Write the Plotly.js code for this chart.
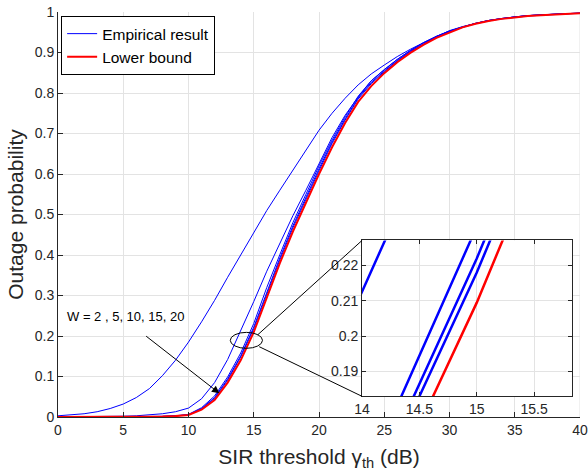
<!DOCTYPE html>
<html>
<head>
<meta charset="utf-8">
<script src="https://cdn.plot.ly/plotly-3.0.1.min.js"></script>
<style>html,body{margin:0;padding:0;background:#fff;}#chart{width:588px;height:474px;}</style>
</head>
<body>
<div id="chart"></div>
<script>
// SIR threshold (dB)
const sir = [0,1,2,3,4,5,6,7,8,9,10,11,12,13,14,15,16,17,18,19,20,21,22,23,24,25,26,27,28,29,30,31,32,33,34,35,36,37,38,39,40];
// Empirical outage probability, W = 2
const empW2 = [0.003,0.005,0.008,0.013,0.021,0.032,0.048,0.070,0.102,0.140,0.185,0.235,0.288,0.345,0.400,0.455,0.510,0.560,0.610,0.660,0.708,0.750,0.787,0.820,0.847,0.869,0.890,0.908,0.925,0.940,0.953,0.963,0.972,0.979,0.984,0.988,0.991,0.993,0.995,0.996,0.997];
// W = 5
const empW5 = [0.0002,0.0003,0.0005,0.0008,0.0012,0.002,0.003,0.005,0.008,0.013,0.022,0.045,0.085,0.142,0.2126,0.285,0.360,0.430,0.497,0.560,0.625,0.690,0.745,0.790,0.830,0.858,0.883,0.905,0.924,0.940,0.954,0.964,0.972,0.979,0.984,0.988,0.991,0.993,0.995,0.996,0.997];
// W = 10
const empW10 = [0.0000,0.0000,0.0001,0.0001,0.0002,0.0003,0.0005,0.0009,0.0016,0.003,0.0065,0.023,0.052,0.099,0.158,0.231,0.320,0.401,0.480,0.550,0.620,0.684,0.741,0.792,0.830,0.857,0.883,0.905,0.924,0.940,0.953,0.963,0.972,0.979,0.984,0.988,0.991,0.993,0.995,0.996,0.997];
// W = 15
const empW15 = [0.0000,0.0000,0.0001,0.0001,0.0002,0.0003,0.0004,0.0008,0.0014,0.0027,0.0055,0.021,0.048,0.094,0.151,0.222,0.310,0.393,0.472,0.543,0.613,0.679,0.736,0.788,0.826,0.854,0.880,0.903,0.922,0.939,0.952,0.963,0.972,0.979,0.984,0.988,0.991,0.993,0.995,0.996,0.997];
// W = 20
const empW20 = [0.0000,0.0000,0.0001,0.0001,0.0002,0.0003,0.0004,0.0007,0.0013,0.0025,0.0052,0.020,0.046,0.091,0.148,0.218,0.305,0.388,0.467,0.538,0.608,0.675,0.733,0.785,0.823,0.852,0.879,0.902,0.921,0.938,0.951,0.962,0.971,0.978,0.983,0.987,0.990,0.992,0.994,0.9955,0.997];
// Lower bound
const lowerBound = [0.0000,0.0000,0.0001,0.0001,0.0002,0.0003,0.0004,0.0006,0.0011,0.0022,0.005,0.018,0.042,0.085,0.140,0.2095,0.297,0.380,0.458,0.530,0.600,0.666,0.726,0.778,0.817,0.849,0.876,0.899,0.919,0.936,0.950,0.962,0.971,0.978,0.983,0.987,0.990,0.992,0.994,0.9955,0.997];

const empSeries = [empW2, empW5, empW10, empW15, empW20];
const xTicks = [0,5,10,15,20,25,30,35,40];
const yTicks = [0,0.1,0.2,0.3,0.4,0.5,0.6,0.7,0.8,0.9,1];
const insetXTicks = [14,14.5,15,15.5];
const insetYTicks = [0.19,0.2,0.21,0.22];

const BLUE = '#0000ff', RED = '#ff0000', DARK = '#262626', GRID = '#e3e3e3';
const FONT = 'Liberation Sans, Arial, Helvetica, sans-serif';

const traces = [];
empSeries.forEach((ys, i) => {
  traces.push({x: sir, y: ys, type: 'scatter', mode: 'lines', name: 'Empirical result',
    showlegend: i === 0, legendrank: 1, line: {color: BLUE, width: 1}, xaxis: 'x', yaxis: 'y', hoverinfo: 'skip'});
});
traces.push({x: sir, y: lowerBound, type: 'scatter', mode: 'lines', name: 'Lower bound',
  showlegend: true, legendrank: 2, line: {color: RED, width: 2}, xaxis: 'x', yaxis: 'y', hoverinfo: 'skip'});
empSeries.forEach((ys) => {
  traces.push({x: sir, y: ys, type: 'scatter', mode: 'lines', showlegend: false,
    line: {color: BLUE, width: 2.5}, xaxis: 'x2', yaxis: 'y2', hoverinfo: 'skip'});
});
traces.push({x: sir, y: lowerBound, type: 'scatter', mode: 'lines', showlegend: false,
  line: {color: RED, width: 2.5}, xaxis: 'x2', yaxis: 'y2', hoverinfo: 'skip'});

const insetX = [0.5824, 0.9847], insetY = [0.051, 0.436];

const layout = {
  width: 588, height: 474,
  margin: {l: 58, r: 8, t: 12, b: 57},
  paper_bgcolor: '#ffffff', plot_bgcolor: '#ffffff',
  font: {family: FONT, size: 14, color: DARK},
  showlegend: true,
  legend: {x: 0.006, y: 0.99, xanchor: 'left', yanchor: 'top', bgcolor: '#ffffff',
    bordercolor: '#000000', borderwidth: 1, font: {family: FONT, size: 15.5, color: '#000'},
    tracegroupgap: 0, itemwidth: 30},
  xaxis: {domain: [0, 1], range: [0, 40], tickvals: xTicks, ticktext: xTicks.map(String),
    showgrid: true, gridcolor: GRID, zeroline: false, showline: true, linecolor: DARK, linewidth: 1,
    ticks: 'inside', ticklen: 5, tickcolor: DARK, mirror: false, ticklabeloverflow: 'allow',
    title: {text: 'SIR threshold γ<sub>th</sub> (dB)', font: {size: 21, family: FONT, color: DARK}, standoff: 12}},
  yaxis: {domain: [0, 1], range: [0, 1], tickvals: yTicks, ticktext: yTicks.map(String),
    showgrid: true, gridcolor: GRID, zeroline: false, showline: true, linecolor: DARK, linewidth: 1,
    ticks: 'inside', ticklen: 5, tickcolor: DARK, mirror: false, ticklabeloverflow: 'allow',
    title: {text: 'Outage probability', font: {size: 21, family: FONT, color: DARK}, standoff: 5}},
  xaxis2: {domain: insetX, anchor: 'y2', range: [14, 15.83], tickvals: insetXTicks, ticktext: insetXTicks.map(String),
    showgrid: true, gridcolor: GRID, zeroline: false, showline: true, linecolor: DARK, linewidth: 1,
    mirror: 'ticks', ticks: 'inside', ticklen: 4, tickcolor: DARK},
  yaxis2: {domain: insetY, anchor: 'x2', range: [0.183, 0.2271], tickvals: insetYTicks, ticktext: insetYTicks.map(String),
    showgrid: true, gridcolor: GRID, zeroline: false, showline: true, linecolor: DARK, linewidth: 1,
    mirror: 'ticks', ticks: 'inside', ticklen: 4, tickcolor: DARK},
  shapes: [
    {type: 'circle', xref: 'x', yref: 'y', x0: 13.2, x1: 15.67, y0: 0.1696, y1: 0.209, line: {color: '#000', width: 1}},
    {type: 'line', xref: 'x', yref: 'y', x0: 15.29, y0: 0.2025, x1: 23.3, y1: 0.436, line: {color: '#000', width: 1}},
    {type: 'line', xref: 'x', yref: 'y', x0: 15.42, y0: 0.1736, x1: 23.3, y1: 0.051, line: {color: '#000', width: 1}},
    {type: 'line', xref: 'x', yref: 'paper', x0: 40, x1: 40, y0: 0, y1: 1, layer: 'below', line: {color: GRID, width: 1}}
  ],
  annotations: [
    {xref: 'x', yref: 'y', x: 5.19, y: 0.2477, text: 'W = 2 , 5, 10, 15, 20', showarrow: false,
      font: {size: 13, family: FONT, color: '#000'}},
    {xref: 'x', yref: 'y', axref: 'x', ayref: 'y', x: 12.37, y: 0.0585, ax: 6.64, ay: 0.2025, text: '',
      showarrow: true, arrowhead: 2, arrowsize: 1.5, arrowwidth: 1, arrowcolor: '#000', standoff: 0}
  ]
};

Plotly.newPlot('chart', traces, layout, {staticPlot: true, displayModeBar: false});
</script>
</body>
</html>
